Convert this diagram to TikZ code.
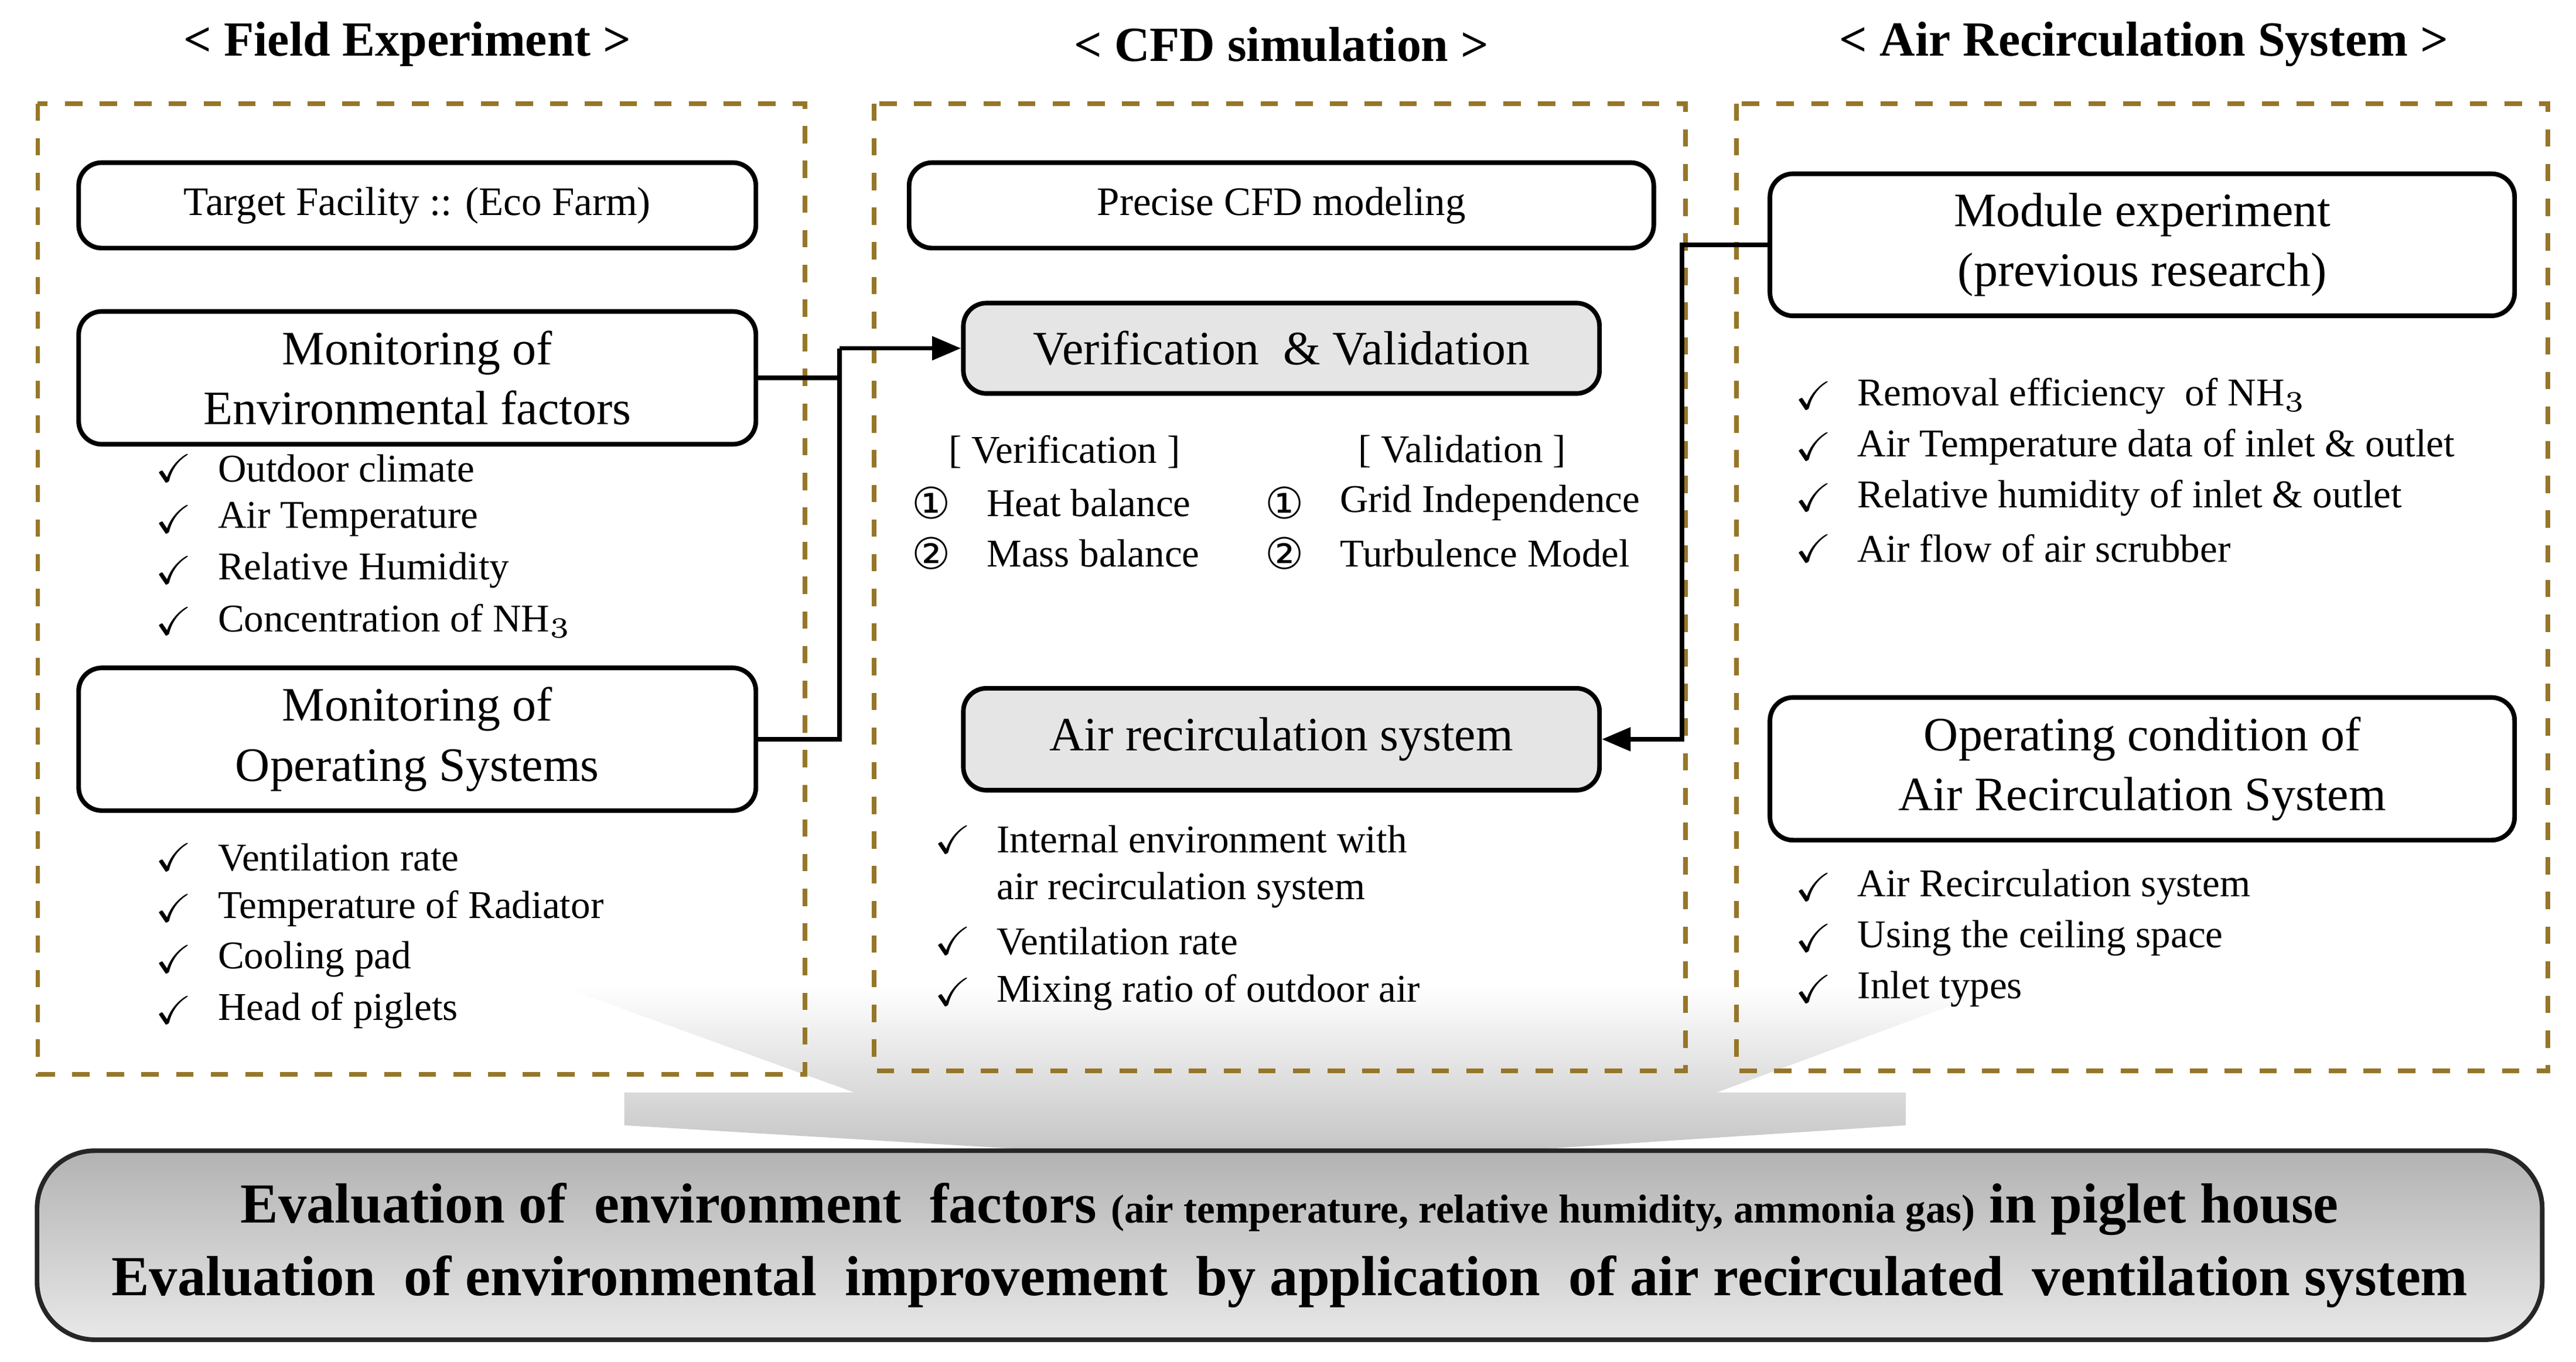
\documentclass[tikz,border=0pt]{standalone}
\usepackage{amssymb}
\usepackage{fontspec}
\setmainfont{Liberation Serif}
\newfontfamily\circfont{DejaVu Sans}
\usetikzlibrary{arrows.meta}
\definecolor{panelcol}{RGB}{150,118,40}

\tikzset{
  panel/.style={draw=panelcol,dashed,thick},
  head/.style={font=\fontsize{8.5}{10}\selectfont\bfseries},
  box/.style={draw,thick,rounded corners=4pt,align=center,font=\fontsize{7}{8.4}\selectfont},
  bigbox/.style={draw,thick,rounded corners=4pt,align=center,font=\fontsize{8.3}{10.4}\selectfont},
  graybox/.style={bigbox,fill=gray!20},
  item/.style={anchor=west,inner sep=0pt,font=\fontsize{6.8}{8.4}\selectfont},
  tick/.style={anchor=east,inner sep=0pt,font=\fontsize{6.8}{8.4}\selectfont},
  num/.style={inner sep=0pt,font=\fontsize{6.8}{8.4}\selectfont},
  circ/.style={inner sep=0pt,font=\fontsize{7.5}{8.4}\selectfont\circfont},
  link/.style={thick,-{Triangle[length=5pt,width=4pt]}},
}
\newcommand{\chk}[3]{% x, y, text
  \node[tick] at (#1,#2) {$\checkmark$};
  \node[item] at (#1+14,#2) {#3};}

\begin{document}
\begin{tikzpicture}[x=0.01cm,y=-0.01cm]
  \useasboundingbox (0,0) rectangle (1568,829);

  % Funnel arrow behind panels
  \shade[top color=white,bottom color=gray!45]
    (340,600) -- (1220,600) -- (1045,665) -- (1160,665) -- (1160,685)
    -- (930,700) -- (630,700) -- (380,685) -- (380,665) -- (520,665) -- cycle;

  % Headings
  \node[head] (hfield) at (248,27) {< Field Experiment >};
  \node[head] (hcfd) at (780,27) {< CFD simulation >};
  \node[head] (hair) at (1305,27) {< Air Recirculation System >};

  % Panels
  \draw[panel] (23,63) rectangle (490,654);
  \draw[panel] (532,63) rectangle (1026,652);
  \draw[panel] (1057,63) rectangle (1551,652);

  % Field experiment
  \node[box,minimum width=4.12cm,minimum height=0.52cm] (target) at (254,125) {Target Facility :: (Eco Farm)};
  \node[bigbox,minimum width=4.12cm,minimum height=0.79cm] (envmon) at (254,230) {Monitoring of\\Environmental factors};
  \node[bigbox,minimum width=4.12cm,minimum height=0.79cm] (opmon) at (254,450) {Monitoring of\\Operating Systems};
  \chk{118}{285}{Outdoor climate}
  \chk{118}{316}{Air Temperature}
  \chk{118}{347}{Relative Humidity}
  \chk{118}{378}{Concentration of NH$_3$}
  \chk{118}{522}{Ventilation rate}
  \chk{118}{553}{Temperature of Radiator}
  \chk{118}{584}{Cooling pad}
  \chk{118}{615}{Head of piglets}

  % CFD simulation
  \node[box,minimum width=4.53cm,minimum height=0.52cm] (cfdmod) at (780,125) {Precise CFD modeling};
  \node[graybox,minimum width=3.87cm,minimum height=0.55cm] (verval) at (780,212) {Verification \ \& Validation};
  \node[num] (verhd) at (648,275) {[ Verification ]};
  \node[num] (valhd) at (890,275) {[ Validation ]};
  \node[circ] at (567,306) {①};
  \node[circ] at (567,337) {②};
  \node[circ] at (782,306) {①};
  \node[circ] at (782,337) {②};
  \node[item] at (600,306) {Heat balance};
  \node[item] at (600,337) {Mass balance};
  \node[item] at (815,306) {Grid Independence};
  \node[item] at (815,337) {Turbulence Model};
  \node[graybox,minimum width=3.87cm,minimum height=0.62cm] (airsys) at (780,450) {Air recirculation system};
  \chk{592}{511}{Internal environment with}
  \node[item] at (606,542) {air recirculation system};
  \chk{592}{573}{Ventilation rate}
  \chk{592}{604}{Mixing ratio of outdoor air}

  % Air recirculation system
  \node[bigbox,minimum width=4.53cm,minimum height=0.78cm] (module) at (1304,149) {Module experiment\\(previous research)};
  \chk{1116}{241}{Removal efficiency \ of NH$_3$}
  \chk{1116}{272}{Air Temperature data of inlet \& outlet}
  \chk{1116}{303}{Relative humidity of inlet \& outlet}
  \chk{1116}{334}{Air flow of air scrubber}
  \node[bigbox,minimum width=4.53cm,minimum height=0.79cm] (opcond) at (1304,468) {Operating condition of\\Air Recirculation System};
  \chk{1116}{540}{Air Recirculation system}
  \chk{1116}{571}{Using the ceiling space}
  \chk{1116}{602}{Inlet types}

  % Connectors
  \coordinate (jn) at (511,212);
  \draw[thick] (envmon.east) -| (jn);
  \draw[thick] (opmon.east) -| (jn);
  \draw[link] (jn) -- (verval.west);
  \draw[link] (module.west) -- ++(-52,0) |- (airsys.east);

  % Result box
  \node[draw=gray!30!black,thick,rounded corners=10pt,top color=gray!60,bottom color=gray!18,
        minimum width=15.24cm,minimum height=1.15cm,align=center,
        font=\fontsize{9.8}{12.6}\selectfont\bfseries] (result) at (785,758)
    {Evaluation of \ environment \ factors {\fontsize{7}{8}\selectfont (air temperature, relative humidity, ammonia gas)} in piglet house\\
     Evaluation \ of environmental \ improvement \ by application \ of air recirculated \ ventilation system};
\end{tikzpicture}
\end{document}
